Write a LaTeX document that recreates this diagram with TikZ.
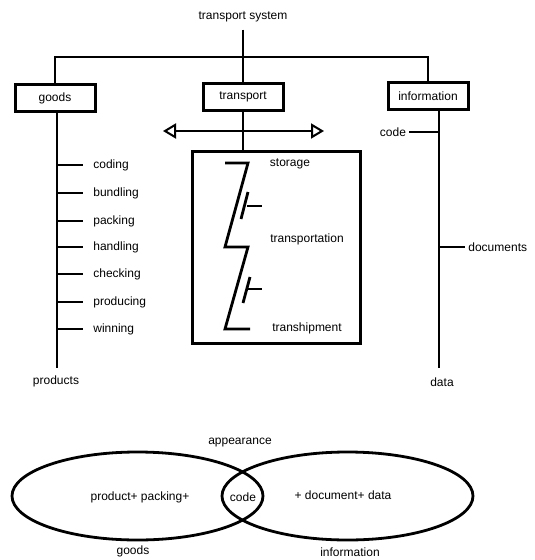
\documentclass[tikz,border=0pt]{standalone}
\usepackage{fontspec}
\setmainfont{Liberation Sans}
\usetikzlibrary{arrows.meta,shapes.geometric}
\begin{document}
\begin{tikzpicture}[x=1pt,y=-1pt,line width=2.8pt,
  txt/.style={font=\fontsize{12}{14}\selectfont,inner sep=0pt},
  box/.style={draw,line width=3pt,minimum width=80pt,minimum height=27pt,inner sep=0pt,
    font=\fontsize{12}{14}\selectfont},
  set/.style={draw,ellipse,line width=2.8pt,minimum width=251pt,minimum height=88pt,inner sep=0pt},
  tick/.style={line width=2.8pt}]
\useasboundingbox (0,0) rectangle (535,560);

% top level
\node[txt] (ts) at (243,17) {transport system};
\node[box] (goods) at (55,98) {goods};
\node[box] (transport) at (243,96.5) {transport};
\node[box] (information) at (428,96) {information};
\coordinate (jt) at (243,57);
\draw ([yshift=-6pt]ts.south) -- (transport.north);
\draw (goods.north) |- (jt) -| (information.north);

% transport branch
\node[draw,line width=3pt,minimum width=168pt,minimum height=192pt,inner sep=0pt] (stack) at (276,247) {};
\draw (transport.south) -- (transport.south |- stack.north);
\coordinate (al) at (163,131);
\coordinate (ar) at (324,131);
\draw[{Triangle[open,length=13pt,width=15pt,line width=2pt]}-{Triangle[open,length=13pt,width=15pt,line width=2pt]}] (al) -- (ar);

% zigzag of the transport chain
\draw[line cap=butt] (225,163) -- (248,163) -- (225,247) -- (248,247) -- (225,329) -- (250,329);
\draw (248,192) -- (241,219);
\draw (247,206) -- (262,206);
\draw (250,277) -- (243,303);
\draw (248,289) -- (262,289);
\node[txt] (storage) at (290,164) {storage};
\node[txt] (transportation) at (307,239) {transportation};
\node[txt] (transhipment) at (307,328) {transhipment};

% goods branch
\coordinate (gtop) at (57,112);
\coordinate (gend) at (57,368);
\draw (gtop) -- (gend);
\node[txt] (products) at (56,381) {products};
\foreach \n/\y in {coding/165,bundling/193,packing/221,handling/247,checking/274,producing/302,winning/329}{
  \node[txt,anchor=west] (\n) at (92,\y) {\n};
  \draw[tick] (gtop |- \n.west) -- ([xshift=-9pt]\n.west);
}

% information branch
\coordinate (itop) at (439,110);
\coordinate (iend) at (439,368);
\draw (itop) -- (iend);
\node[txt] (code) at (393,132) {code};
\draw[tick] (itop |- code.east) -- ([xshift=2pt]code.east);
\node[txt,anchor=west] (documents) at (467,247) {documents};
\draw[tick] (itop |- documents.west) -- ([xshift=-2pt]documents.west);
\node[txt] (data) at (442,382) {data};

% overlapping sets
\node[set] (gset) at (137.5,496) {};
\node[set] (iset) at (347.5,496) {};
\node[txt] at (140,497) {product+ packing+};
\node[txt] (codeset) at (243,497) {code};
\node[txt] at (343,495) {+ document+ data};
\node[txt] (appearance) at (240,443) {appearance};
\node[txt] (goodslbl) at (133,551) {goods};
\node[txt] (infolbl) at (350,552) {information};
\end{tikzpicture}
\end{document}
